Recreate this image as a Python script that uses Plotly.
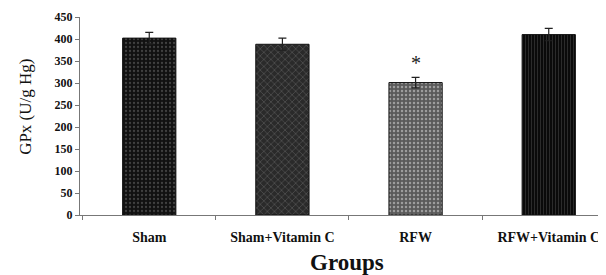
import plotly.graph_objects as go

groups = ["Sham", "Sham+Vitamin C", "RFW", "RFW+Vitamin C"]
gpx = [402, 388, 301, 410]
sem = [13, 14, 12, 14]
y_ticks = [0, 50, 100, 150, 200, 250, 300, 350, 400, 450]

styles = [
    dict(shape=".", bgcolor="#111111", fgcolor="#707070", size=4, solidity=0.25),
    dict(shape="x", bgcolor="#2a2a2a", fgcolor="#9a9a9a", size=5, solidity=0.2),
    dict(shape=".", bgcolor="#5a5a5a", fgcolor="#e0e0e0", size=4, solidity=0.3),
    dict(shape="|", bgcolor="#0a0a0a", fgcolor="#555555", size=3, solidity=0.3),
]

fig = go.Figure()
for i, g in enumerate(groups):
    fig.add_trace(go.Bar(
        x=[i], y=[gpx[i]], width=0.4,
        marker=dict(color=styles[i]["bgcolor"], pattern=styles[i],
                    line=dict(color="#111111", width=1)),
        error_y=dict(type="data", array=[sem[i]], color="#222222",
                     thickness=1.2, width=4),
        showlegend=False,
    ))

fig.add_annotation(x=2, y=gpx[2] + sem[2], yshift=14, text="*", showarrow=False,
                   font=dict(family="Liberation Serif", size=20, color="#222222"))
fig.add_annotation(xref="paper", yref="paper", x=-0.105, y=0.545, textangle=-90,
                   xanchor="center", yanchor="middle",
                   text="GPx (U/g Hg)", showarrow=False,
                   font=dict(family="Liberation Serif", size=17, color="#111111"))
fig.add_annotation(xref="paper", yref="paper", x=0.508, y=-0.2374,
                   xanchor="center", yanchor="middle",
                   text="<b>Groups</b>", showarrow=False, borderpad=0,
                   font=dict(family="Liberation Serif", size=23, color="#111111"))

# page body has an 8px margin, so the figure is 8px smaller and margins shifted
fig.update_layout(
    width=598, height=267,
    margin=dict(l=72, r=0, t=9, b=60),
    paper_bgcolor="white", plot_bgcolor="white",
    font=dict(family="Liberation Serif", color="#111111"),
    bargap=0.6,
)
fig.update_xaxes(
    range=[-0.52, 3.43], tickvals=list(range(len(groups))), ticktext=groups,
    ticks="", showline=True, linecolor="#777777", linewidth=1.2,
    showgrid=False, zeroline=False, automargin=False, ticklabelstandoff=9,
    tickfont=dict(family="Liberation Serif", size=14, color="#111111", weight="bold"),
    minor=dict(tick0=0.5, dtick=1, ticks="outside", ticklen=4, tickcolor="#777777"),
)
fig.update_yaxes(
    range=[0, 450], tickvals=y_ticks, ticks="outside", ticklen=4, tickcolor="#777777",
    showline=True, linecolor="#777777", linewidth=1.2, showgrid=False, zeroline=False,
    automargin=False,
    tickfont=dict(family="Liberation Serif", size=12, color="#111111", weight="bold"),
)

fig.write_html("out.html")
